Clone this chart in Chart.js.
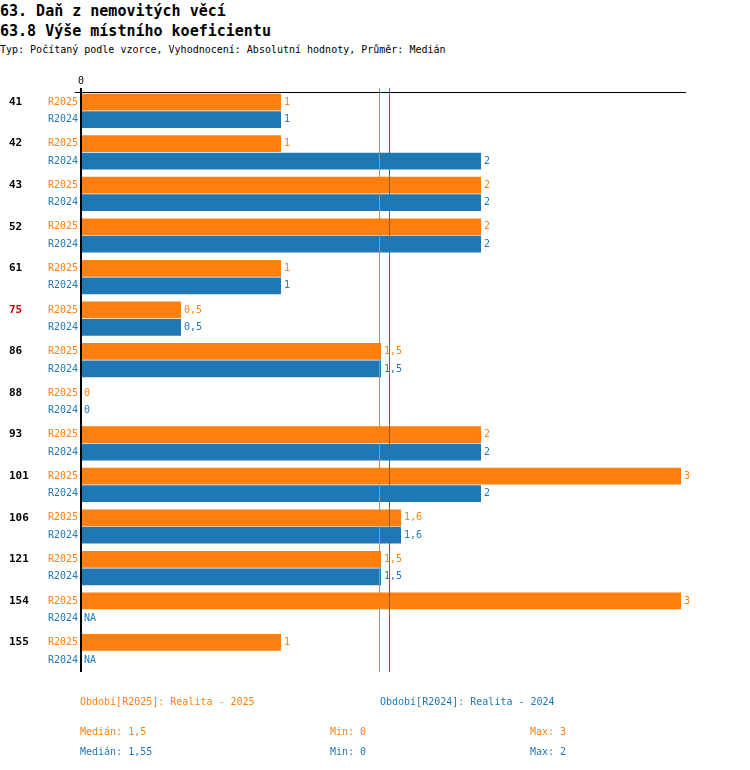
<!DOCTYPE html>
<html><head><meta charset="utf-8">
<script src="https://cdn.jsdelivr.net/npm/chart.js@4"></script>
<style>
body{margin:0;background:#fff;font-family:"DejaVu Sans Mono",monospace}
#wrap{position:relative;width:750px;height:770px}
.t{position:absolute;left:0;white-space:nowrap;color:#000}
</style></head><body>
<div id="wrap">
<div class="t" style="top:2px;font-size:15px;font-weight:bold">63. Daň z nemovitých věcí</div>
<div class="t" style="top:22px;font-size:15px;font-weight:bold">63.8 Výše místního koeficientu</div>
<div class="t" style="top:44px;font-size:10px">Typ: Počítaný podle vzorce, Vyhodnocení: Absolutní hodnoty, Průměr: Medián</div>
<canvas id="c" width="750" height="770" style="position:absolute;left:0;top:0"></canvas>
</div>
<script>
const groups = ["41","42","43","52","61","75","86","88","93","101","106","121","154","155"];
const r2025 = [1,1,2,2,1,0.5,1.5,0,2,3,1.6,1.5,3,1];
const r2024 = [1,2,2,2,1,0.5,1.5,0,2,2,1.6,1.5,null,null];
const median2025 = 1.5, median2024 = 1.55;
const min2025 = 0, max2025 = 3, min2024 = 0, max2024 = 2;
const ORANGE = "#ff7f0e", BLUE = "#1f77b4";
const fmt = v => v === null ? "NA" : String(v).replace(".", ",");

const overlay = {
  id: "overlay",
  afterDatasetsDraw(chart) {
    const ctx = chart.ctx, x = chart.scales.x, y = chart.scales.y;
    const x0 = x.getPixelForValue(0);
    ctx.save();
    ctx.font = "10px 'DejaVu Sans Mono'";
    ctx.textBaseline = "middle";
    // medians
    [[median2025, ORANGE], [median2024, BLUE]].forEach(([m, c]) => {
      const px = Math.round(x.getPixelForValue(m)) - 1.5;
      ctx.strokeStyle = c; ctx.lineWidth = 1;
      ctx.beginPath(); ctx.moveTo(px, 88); ctx.lineTo(px, y.bottom); ctx.stroke();
    });
    // axes
    ctx.strokeStyle = "#000";
    ctx.lineWidth = 1;
    ctx.beginPath(); ctx.moveTo(75, 92.5); ctx.lineTo(686, 92.5); ctx.stroke();
    ctx.lineWidth = 2;
    ctx.beginPath(); ctx.moveTo(x0, 88); ctx.lineTo(x0, y.bottom); ctx.stroke();
    ctx.fillStyle = "#000"; ctx.textAlign = "center";
    ctx.fillText("0", x0, 81);
    chart.data.datasets.forEach((ds, di) => {
      const meta = chart.getDatasetMeta(di);
      meta.data.forEach((bar, i) => {
        const v = ds.data[i];
        const end = v === null ? x0 : bar.x;
        ctx.fillStyle = ds.backgroundColor; ctx.textAlign = "left";
        ctx.fillText(fmt(v), end + 3, bar.y);
        ctx.textAlign = "right";
        ctx.fillText(ds.label, x0 - 3, bar.y);
        if (di === 0) {
          ctx.font = "bold 11px 'DejaVu Sans Mono'";
          ctx.fillStyle = groups[i] === "75" ? "#cc0000" : "#000";
          ctx.textAlign = "left";
          ctx.fillText(groups[i], 9, bar.y);
          ctx.font = "10px 'DejaVu Sans Mono'";
        }
      });
    });
    // legend / stats
    ctx.textAlign = "left";
    const rows = [
      [ORANGE, 702, [[80, "Období[R2025]: Realita - 2025"], [380, "Období[R2024]: Realita - 2024"]]],
      [ORANGE, 732, [[80, "Medián: " + fmt(median2025)], [330, "Min: " + fmt(min2025)], [530, "Max: " + fmt(max2025)]]],
      [BLUE, 752, [[80, "Medián: " + fmt(median2024)], [330, "Min: " + fmt(min2024)], [530, "Max: " + fmt(max2024)]]]
    ];
    rows.forEach(([c, yy, items], ri) => items.forEach(([xx, s], k) => {
      ctx.fillStyle = ri === 0 && k === 1 ? BLUE : c;
      ctx.fillText(s, xx, yy);
    }));
    ctx.restore();
  }
};

new Chart(document.getElementById("c"), {
  type: "bar",
  data: {
    labels: groups,
    datasets: [
      { label: "R2025", data: r2025, backgroundColor: ORANGE },
      { label: "R2024", data: r2024, backgroundColor: BLUE }
    ]
  },
  options: {
    indexAxis: "y",
    responsive: false,
    animation: false,
    layout: { padding: { left: 81, top: 90, right: 69, bottom: 98 } },
    plugins: { legend: { display: false }, tooltip: { enabled: false } },
    datasets: { bar: { categoryPercentage: 0.84, barPercentage: 0.96 } },
    scales: {
      x: { min: 0, max: 3, display: false },
      y: { display: false, offset: true, grid: { display: false } }
    }
  },
  plugins: [overlay]
});
</script>
</body></html>
